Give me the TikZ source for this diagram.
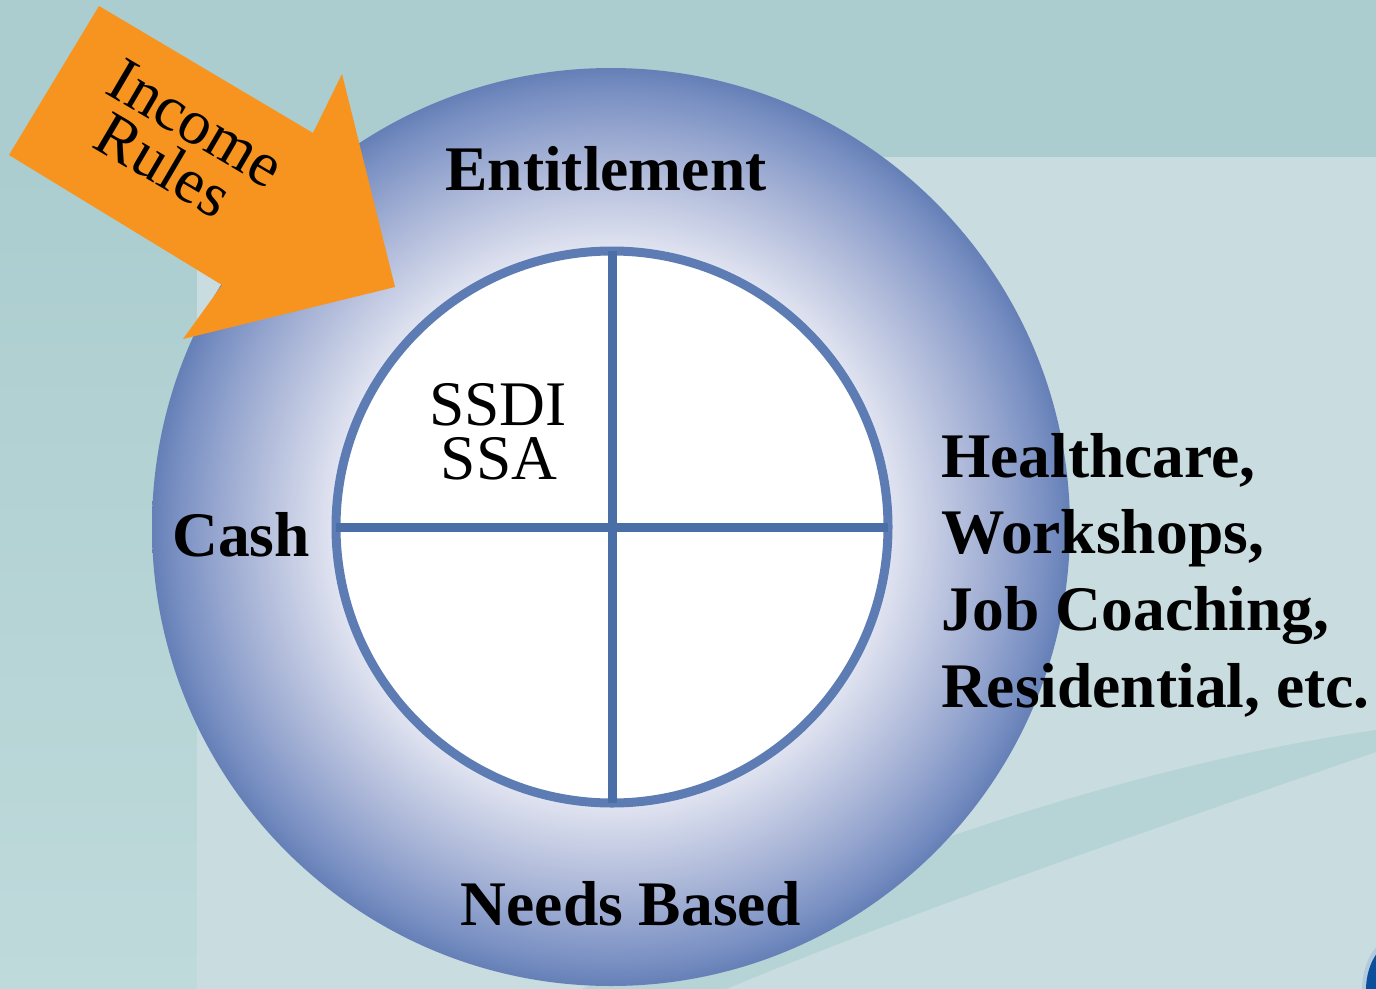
\documentclass[tikz,border=0pt]{standalone}
\usepackage{fontspec}
\setmainfont{Liberation Serif}
\definecolor{bandteal}{HTML}{ABCDCF}
\definecolor{panelc}{HTML}{C9DCE0}
\definecolor{stripc}{HTML}{BFDADB}
\definecolor{swooshc}{HTML}{B6D4D5}
\definecolor{ringin}{HTML}{E0E3F0}
\definecolor{ringmid}{HTML}{A9B5D7}
\definecolor{ringdeep}{HTML}{7C92C4}
\definecolor{ringout}{HTML}{6580B7}
\definecolor{rimc}{HTML}{5C7CB3}
\definecolor{crossc}{HTML}{4A6EA6}
\definecolor{arroworange}{HTML}{F7941F}
\definecolor{logoblue}{HTML}{0B4F9C}
\pgfdeclareradialshading{ringshade}{\pgfpoint{0bp}{0bp}}{color(0bp)=(white); color(15.2bp)=(ringin); color(20bp)=(ringmid); color(23.5bp)=(ringdeep); color(25bp)=(ringout); color(50bp)=(ringout)}
\tikzset{
  lbl/.style={font=\bfseries\fontsize{63.5}{76}\selectfont, inner sep=0pt, outer sep=0pt, text=black},
  reglbl/.style={font=\fontsize{63.5}{54}\selectfont, inner sep=0pt, outer sep=0pt, text=black},
  ringnode/.style={circle, inner sep=0pt, outer sep=0pt, minimum size=918pt, shading=ringshade},
  innernode/.style={circle, inner sep=0pt, outer sep=0pt, minimum size=552pt, draw=rimc, line width=9pt, fill=white},
  crossline/.style={draw=crossc, line width=9pt},
  arrowshape/.style={fill=arroworange}
}
\begin{document}
\begin{tikzpicture}[x=1pt,y=-1pt]
\useasboundingbox (0,0) rectangle (1376,988);
\begin{scope}
\clip (0,0) rectangle (1376,988);
% background
\fill[stripc] (0,0) rectangle (1376,988);
\shade[top color=bandteal, bottom color=stripc] (0,157) rectangle (197,988);
\fill[bandteal] (0,0) rectangle (1376,157);
\fill[panelc, rounded corners=30pt] (197,157) rectangle (1420,1040);
% swoosh band
\fill[swooshc] (560,1000) .. controls (800,880) and (1100,770) .. (1376,730)
  -- (1376,752) .. controls (1150,830) and (900,915) .. (700,1000) -- cycle;
% logo fragment
\fill[white!60!logoblue, opacity=0.5] (1400,990) ellipse [x radius=38pt, y radius=55pt];
\fill[logoblue] (1400,990) ellipse [x radius=34pt, y radius=50pt];
% ring
\node[ringnode] (ring) at (611,527) {};
\node[innernode] (inner) at (612,527) {};
\draw[crossline] (inner.north) -- (inner.south);
\draw[crossline] (inner.west) -- (inner.east);
% arrow
\fill[arrowshape] (99,6) -- (313,133) -- (342,74) -- (395,287) -- (183,339) -- (222,285) -- (9,155) -- cycle;
\end{scope}
% labels
\node[reglbl, rotate=-30.5, anchor=base] (income) at (186,141) {Income};
\node[reglbl, rotate=-30.5, anchor=base] (rules) at (153,183) {Rules};
\node[lbl, anchor=base] (entitle) at (606,190) {Entitlement};
\node[lbl, anchor=base] (cash) at (241,556) {Cash};
\node[lbl, anchor=base] (needs) at (631,925) {Needs Based};
\node[reglbl, anchor=base] (ssdi) at (498,425) {SSDI};
\node[reglbl, anchor=base] (ssa) at (499,479) {SSA};
\node[lbl, anchor=base west] (r1) at (941,477) {Healthcare,};
\node[lbl, anchor=base west] (r2) at (941,553) {Workshops,};
\node[lbl, anchor=base west] (r3) at (941,630) {Job Coaching,};
\node[lbl, anchor=base west] (r4) at (941,707) {Residential, etc.};
\end{tikzpicture}
\end{document}
